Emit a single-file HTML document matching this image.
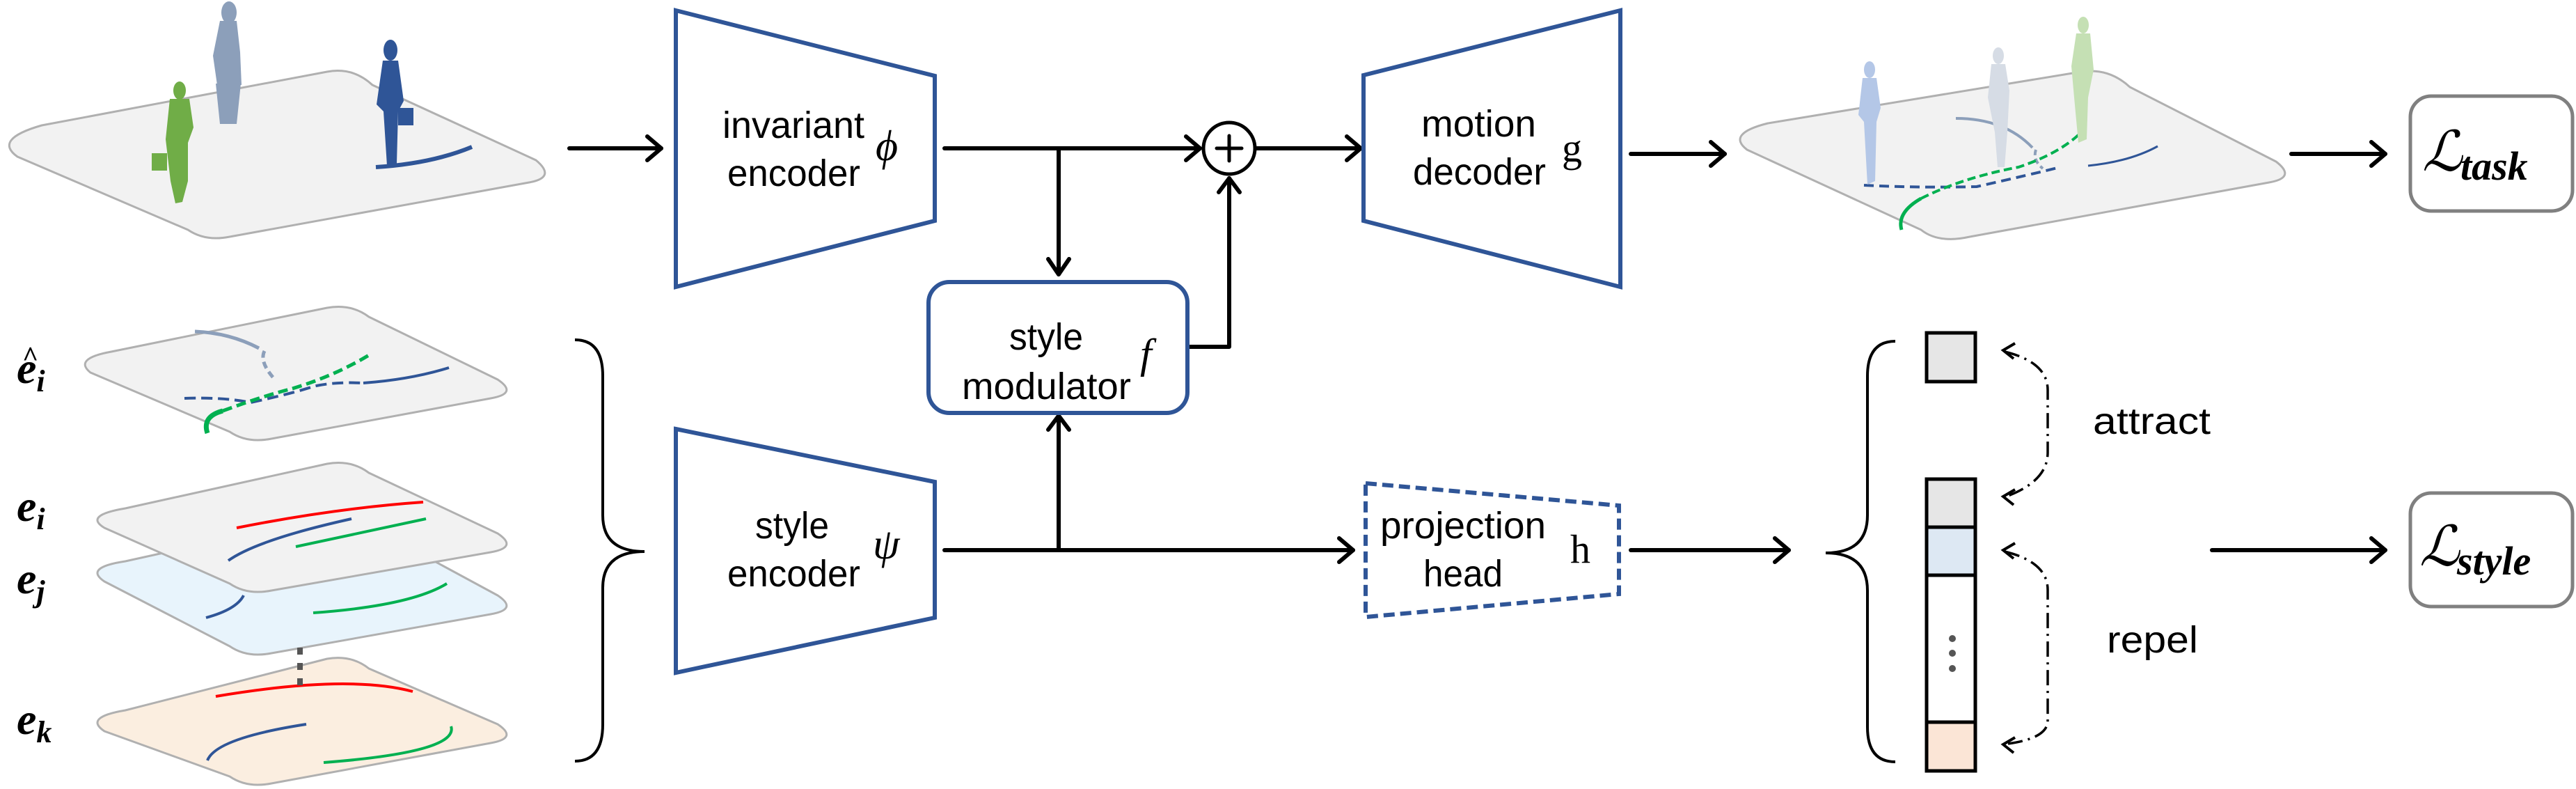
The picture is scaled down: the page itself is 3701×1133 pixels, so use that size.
<!DOCTYPE html>
<html><head><meta charset="utf-8"><style>
html,body{margin:0;padding:0;background:#fff;}
svg{display:block;}
.t{font-family:"Liberation Sans Narrow","Liberation Sans",sans-serif;font-size:54px;fill:#000;}
.m{font-family:"Liberation Serif","DejaVu Serif",serif;font-style:italic;fill:#000;}
</style></head><body>
<svg width="3701" height="1133" viewBox="0 0 3701 1133" xmlns="http://www.w3.org/2000/svg">
<g fill="none" stroke="#000" stroke-width="6" stroke-linecap="round" stroke-linejoin="round">
<path d="M818 213H950"/><path d="M930 196L950 213L930 230"/>
<path d="M1357 213H1724"/><path d="M1704 196L1724 213L1704 230"/>
<circle cx="1766" cy="213" r="37" stroke-width="5"/>
<path d="M1766 195V231M1748 213H1784" stroke-width="5"/>
<path d="M1806 213H1955"/><path d="M1935 196L1955 213L1935 230"/>
<path d="M1521 213V392"/><path d="M1506 372L1521 394L1536 372"/>
<path d="M1706 498H1766V256"/><path d="M1751 276L1766 256L1781 276"/>
<path d="M2343 221H2478"/><path d="M2458 204L2478 221L2458 238"/>
<path d="M3292 221H3427"/><path d="M3407 204L3427 221L3407 238"/>
<path d="M1357 790H1944"/><path d="M1924 773L1944 790L1924 807"/>
<path d="M1521 790V597"/><path d="M1506 617L1521 597L1536 617"/>
<path d="M2343 790H2570"/><path d="M2550 773L2570 790L2550 807"/>
<path d="M3178 790H3427"/><path d="M3407 773L3427 790L3407 807"/>
</g>
<g fill="none" stroke="#2f5597" stroke-width="6">
<path d="M971 15L1343 109V317L971 412Z"/>
<path d="M971 616L1343 692V887L971 966Z"/>
<path d="M1959 108L2328 15V412L1959 317Z"/>
<path d="M1962 694L2326 726V853L1962 886Z" stroke-dasharray="16,8"/>
<rect x="1334" y="405" width="372" height="188" rx="30"/>
</g>
<text class="t" x="1038" y="198" textLength="204" lengthAdjust="spacingAndGlyphs">invariant</text>
<text class="t" x="1045" y="267" textLength="191" lengthAdjust="spacingAndGlyphs">encoder</text>
<text class="m" x="1258" y="230" font-size="62">ϕ</text>
<text class="t" x="1450" y="502" textLength="106" lengthAdjust="spacingAndGlyphs">style</text>
<text class="t" x="1382" y="573" textLength="243" lengthAdjust="spacingAndGlyphs">modulator</text>
<text class="m" x="1638" y="528" font-size="60">f</text>
<text class="t" x="1085" y="773" textLength="106" lengthAdjust="spacingAndGlyphs">style</text>
<text class="t" x="1045" y="842" textLength="191" lengthAdjust="spacingAndGlyphs">encoder</text>
<text class="m" x="1254" y="802" font-size="62">ψ</text>
<text class="t" x="2042" y="196" textLength="165" lengthAdjust="spacingAndGlyphs">motion</text>
<text class="t" x="2030" y="265" textLength="191" lengthAdjust="spacingAndGlyphs">decoder</text>
<text x="2244" y="232" font-family="Liberation Serif,serif" font-size="58">g</text>
<text class="t" x="1983" y="773" textLength="238" lengthAdjust="spacingAndGlyphs">projection</text>
<text class="t" x="2045" y="842" textLength="114" lengthAdjust="spacingAndGlyphs">head</text>
<text x="2256" y="808" font-family="Liberation Serif,serif" font-size="58">h</text>
<text class="t" x="3007" y="623" textLength="169" lengthAdjust="spacingAndGlyphs">attract</text>
<text class="t" x="3027" y="937" textLength="131" lengthAdjust="spacingAndGlyphs">repel</text>
<rect x="3463" y="138" width="233" height="165" rx="30" fill="#fff" stroke="#808080" stroke-width="5"/>
<rect x="3463" y="708" width="233" height="163" rx="30" fill="#fff" stroke="#808080" stroke-width="5"/>
<text class="m" x="3480" y="245" font-size="80">ℒ</text>
<text x="3535" y="258" font-family="Liberation Serif,serif" font-weight="bold" font-style="italic" font-size="58">task</text>
<text class="m" x="3476" y="812" font-size="80">ℒ</text>
<text x="3530" y="825" font-family="Liberation Serif,serif" font-weight="bold" font-style="italic" font-size="58">style</text>
<g stroke="#000" stroke-width="5">
<rect x="2768" y="478" width="70" height="70" fill="#e6e6e6"/>
<rect x="2768" y="688" width="70" height="69" fill="#e6e6e6"/>
<rect x="2768" y="757" width="70" height="69" fill="#dde8f3"/>
<rect x="2768" y="826" width="70" height="211" fill="#fff"/>
<rect x="2768" y="1037" width="70" height="70" fill="#fbe5d6"/>
</g>
<g fill="#555"><circle cx="2805" cy="917" r="5"/><circle cx="2805" cy="938" r="5"/><circle cx="2805" cy="960" r="5"/></g>
<g fill="none" stroke="#000" stroke-width="3.5" stroke-dasharray="22,8,3,8">
<path d="M2880 505Q2942 520 2942 560V650Q2942 690 2885 712"/>
<path d="M2880 792Q2942 807 2942 847V1035Q2942 1060 2885 1068"/>
</g>
<g fill="none" stroke="#000" stroke-width="4">
<path d="M2895 493L2878 503L2893 515"/><path d="M2895 703L2878 713L2893 725"/>
<path d="M2895 780L2878 790L2893 802"/><path d="M2895 1059L2878 1069L2893 1081"/>
</g>
<g fill="none" stroke="#000" stroke-width="4">
<path d="M826 488Q866 488 866 540V740Q866 792 926 792Q866 792 866 844V1040Q866 1093 826 1093"/>
<path d="M2723 490Q2683 490 2683 540V740Q2683 794 2623 794Q2683 794 2683 848V1044Q2683 1094 2723 1094"/>
</g>
<g stroke="#b0b0b0" stroke-width="3" stroke-linejoin="round">
<path d="M60 180L470 103Q507 96 535 122L770 230Q800 255 760 262L330 340Q295 347 270 330L25 225Q-10 200 60 180Z" fill="#f2f2f2"/>
<path d="M2540 177L2990 103Q3030 97 3060 125L3270 232Q3300 255 3260 262L2830 340Q2785 350 2760 330L2510 215Q2480 192 2540 177Z" fill="#f2f2f2"/>
<path d="M160 505L470 442Q505 436 530 455L715 545Q745 565 705 572L390 630Q355 637 330 620L130 535Q105 515 160 505Z" fill="#f2f2f2"/>
<path d="M180 806L470 742Q505 736 530 755L715 855Q745 875 705 882L390 938Q355 945 330 928L150 835Q120 815 180 806Z" fill="#e8f4fc"/>
<path d="M180 730L470 666Q505 660 530 679L715 766Q745 786 705 793L390 848Q355 855 330 838L150 758Q120 740 180 730Z" fill="#f2f2f2"/>
<path d="M180 1020L470 946Q505 940 530 960L715 1040Q745 1060 705 1067L390 1125Q355 1132 330 1115L150 1050Q120 1030 180 1020Z" fill="#fbeee0"/>
</g>
<g fill="none" stroke-width="4">
<path d="M280 476Q330 478 372 500" stroke="#8c9fba" stroke-width="5"/>
<path d="M380 504Q372 520 395 545" stroke="#8c9fba" stroke-width="5" stroke-dasharray="10,6"/>
<path d="M265 572Q320 570 360 578Q420 565 450 555Q480 548 520 550" stroke="#2f5597" stroke-dasharray="16,8"/>
<path d="M522 550Q590 545 645 528" stroke="#2f5597"/>
<path d="M298 622Q290 598 320 590" stroke="#00b050" stroke-width="7"/>
<path d="M320 590Q380 568 420 558Q480 540 530 510" stroke="#00b050" stroke-width="5" stroke-dasharray="14,7"/>
<path d="M608 721Q480 730 340 758" stroke="#ff0000"/>
<path d="M328 805Q370 775 505 745" stroke="#2f5597"/>
<path d="M612 745L425 785" stroke="#00b050"/>
<path d="M296 887Q340 875 350 855" stroke="#2f5597"/>
<path d="M642 838Q590 870 450 880" stroke="#00b050"/>
<path d="M593 993Q500 968 310 1000" stroke="#ff0000"/>
<path d="M298 1092Q310 1060 440 1040" stroke="#2f5597"/>
<path d="M648 1043Q660 1080 465 1095" stroke="#00b050"/>
<path d="M431 930V990" stroke="#555" stroke-width="8" stroke-dasharray="10,12"/>
<path d="M678 211Q620 235 540 240" stroke="#2f5597" stroke-width="6"/>
<path d="M2810 170Q2880 170 2920 212" stroke="#8c9fba" stroke-width="4"/>
<path d="M2925 215Q2920 230 2935 242" stroke="#8c9fba" stroke-width="4" stroke-dasharray="8,5"/>
<path d="M2678 266Q2760 270 2840 268Q2920 250 2960 240" stroke="#2f5597" stroke-dasharray="14,8"/>
<path d="M3000 238Q3060 232 3100 210" stroke="#2f5597" stroke-width="3"/>
<path d="M2732 330Q2725 305 2760 285" stroke="#00b050" stroke-width="5"/>
<path d="M2760 285Q2820 255 2900 240Q2960 220 2990 190" stroke="#00b050" stroke-width="4" stroke-dasharray="12,6"/>
</g>
<g fill="#8c9fba"><ellipse cx="329" cy="18" rx="11" ry="16"/><path d="M316 30L340 30L345 75L347 122L312 122L306 80Z"/><path d="M310 120H346L340 178H316Z"/></g>
<g fill="#70ad47"><ellipse cx="258" cy="130" rx="9" ry="13"/><path d="M244 142H272L278 183L270 205L270 260L262 290L252 292L245 260L238 200Z"/><rect x="218" y="220" width="22" height="25"/></g>
<g fill="#2f5597"><ellipse cx="561" cy="72" rx="10" ry="15"/><path d="M550 87H572L580 145L572 160L570 235L556 238L551 160L541 150Z"/><rect x="572" y="155" width="22" height="25"/></g>
<g fill="#b4c7e7"><ellipse cx="2686" cy="100" rx="8" ry="12"/><path d="M2676 112H2696L2702 155L2696 175L2694 260L2683 265L2678 175L2670 165Z"/></g>
<g fill="#d6dce5"><ellipse cx="2871" cy="80" rx="8" ry="12"/><path d="M2861 92H2881L2887 130L2884 190L2880 240L2870 240L2866 190L2856 140Z"/></g>
<g fill="#c5e0b4"><ellipse cx="2993" cy="36" rx="8" ry="12"/><path d="M2983 48H3003L3008 100L3000 140L2998 200L2986 205L2980 140L2976 95Z"/></g>
<g font-family="Liberation Serif,serif" font-weight="bold" font-style="italic" font-size="64">
<text x="24" y="550">e<tspan font-size="44" dy="12">i</tspan></text>
<text x="32" y="525" font-size="40" font-style="normal">^</text>
<text x="24" y="748">e<tspan font-size="44" dy="12">i</tspan></text>
<text x="24" y="852">e<tspan font-size="44" dy="12">j</tspan></text>
<text x="24" y="1054">e<tspan font-size="44" dy="12">k</tspan></text>
</g>
</svg>
</body></html>
